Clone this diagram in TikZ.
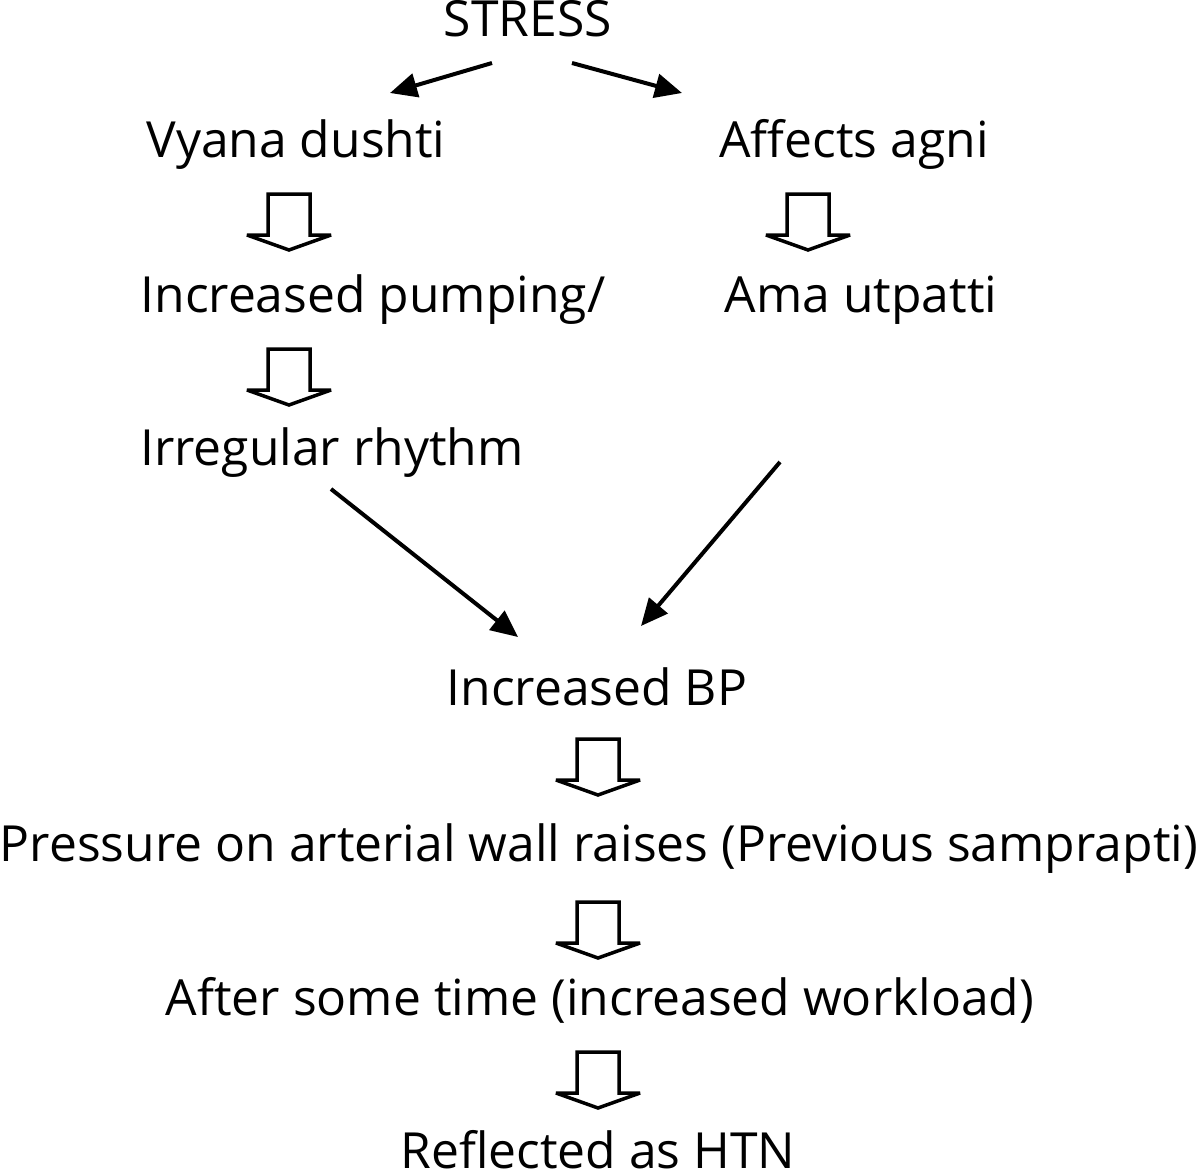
\documentclass[tikz,border=0pt]{standalone}
\usepackage{fontspec}
\setmainfont{Open Sans}
\usepackage{tikz}
\usetikzlibrary{
arrows.meta,
positioning,
calc
}
\tikzset{
flowtext/.style={anchor=base, inner sep=0pt, font=\fontsize{49.8}{60}\selectfont},
flowarrow/.style={-{Triangle[length=27pt, width=24pt]}, line width=4pt, draw=black},
hollowdown/.pic={
  \draw[line width=3.5pt, miter limit=4] (-21,2) -- (21,2) -- (21,43) -- (42,43)
    -- (0,58) -- (-42,43) -- (-21,43) -- cycle;
}
}

\begin{document}
\begin{tikzpicture}[x=1pt, y=-1pt]
\useasboundingbox (0,0) rectangle (1198,1172);

\node[flowtext] (stress) at (528,37) {STRESS};
\node[flowtext] (vyana) at (296,157) {Vyana dushti};
\node[flowtext] (agni) at (854,157) {Affects agni};
\node[flowtext] (pump) at (373,312) {Increased pumping/};
\node[flowtext] (ama) at (861,312) {Ama utpatti};
\node[flowtext] (rhythm) at (332,465) {Irregular rhythm};
\node[flowtext] (bp) at (597,705) {Increased BP};
\node[flowtext] (wall) at (599,861) {Pressure on arterial wall raises (Previous samprapti)};
\node[flowtext] (work) at (600,1015) {After some time (increased workload)};
\node[flowtext] (htn) at (598,1168) {Reflected as HTN};

\draw[flowarrow] ($(stress.base)+(-36,26)$) -- ($(vyana.base)+(94,-64)$);
\draw[flowarrow] ($(stress.base)+(44,26)$) -- ($(agni.base)+(-172,-64)$);
\draw[flowarrow] ($(rhythm.base)+(-1,24)$) -- ($(bp.base)+(-79,-68)$);
\draw[flowarrow] ($(ama.base)+(-81,150)$) -- ($(bp.base)+(44,-79)$);

\foreach \hx/\hy in {289/192, 289/347, 808/192, 598/737, 598/900, 598/1050}
\pic at (\hx,\hy) {hollowdown};
\end{tikzpicture}
\end{document}
